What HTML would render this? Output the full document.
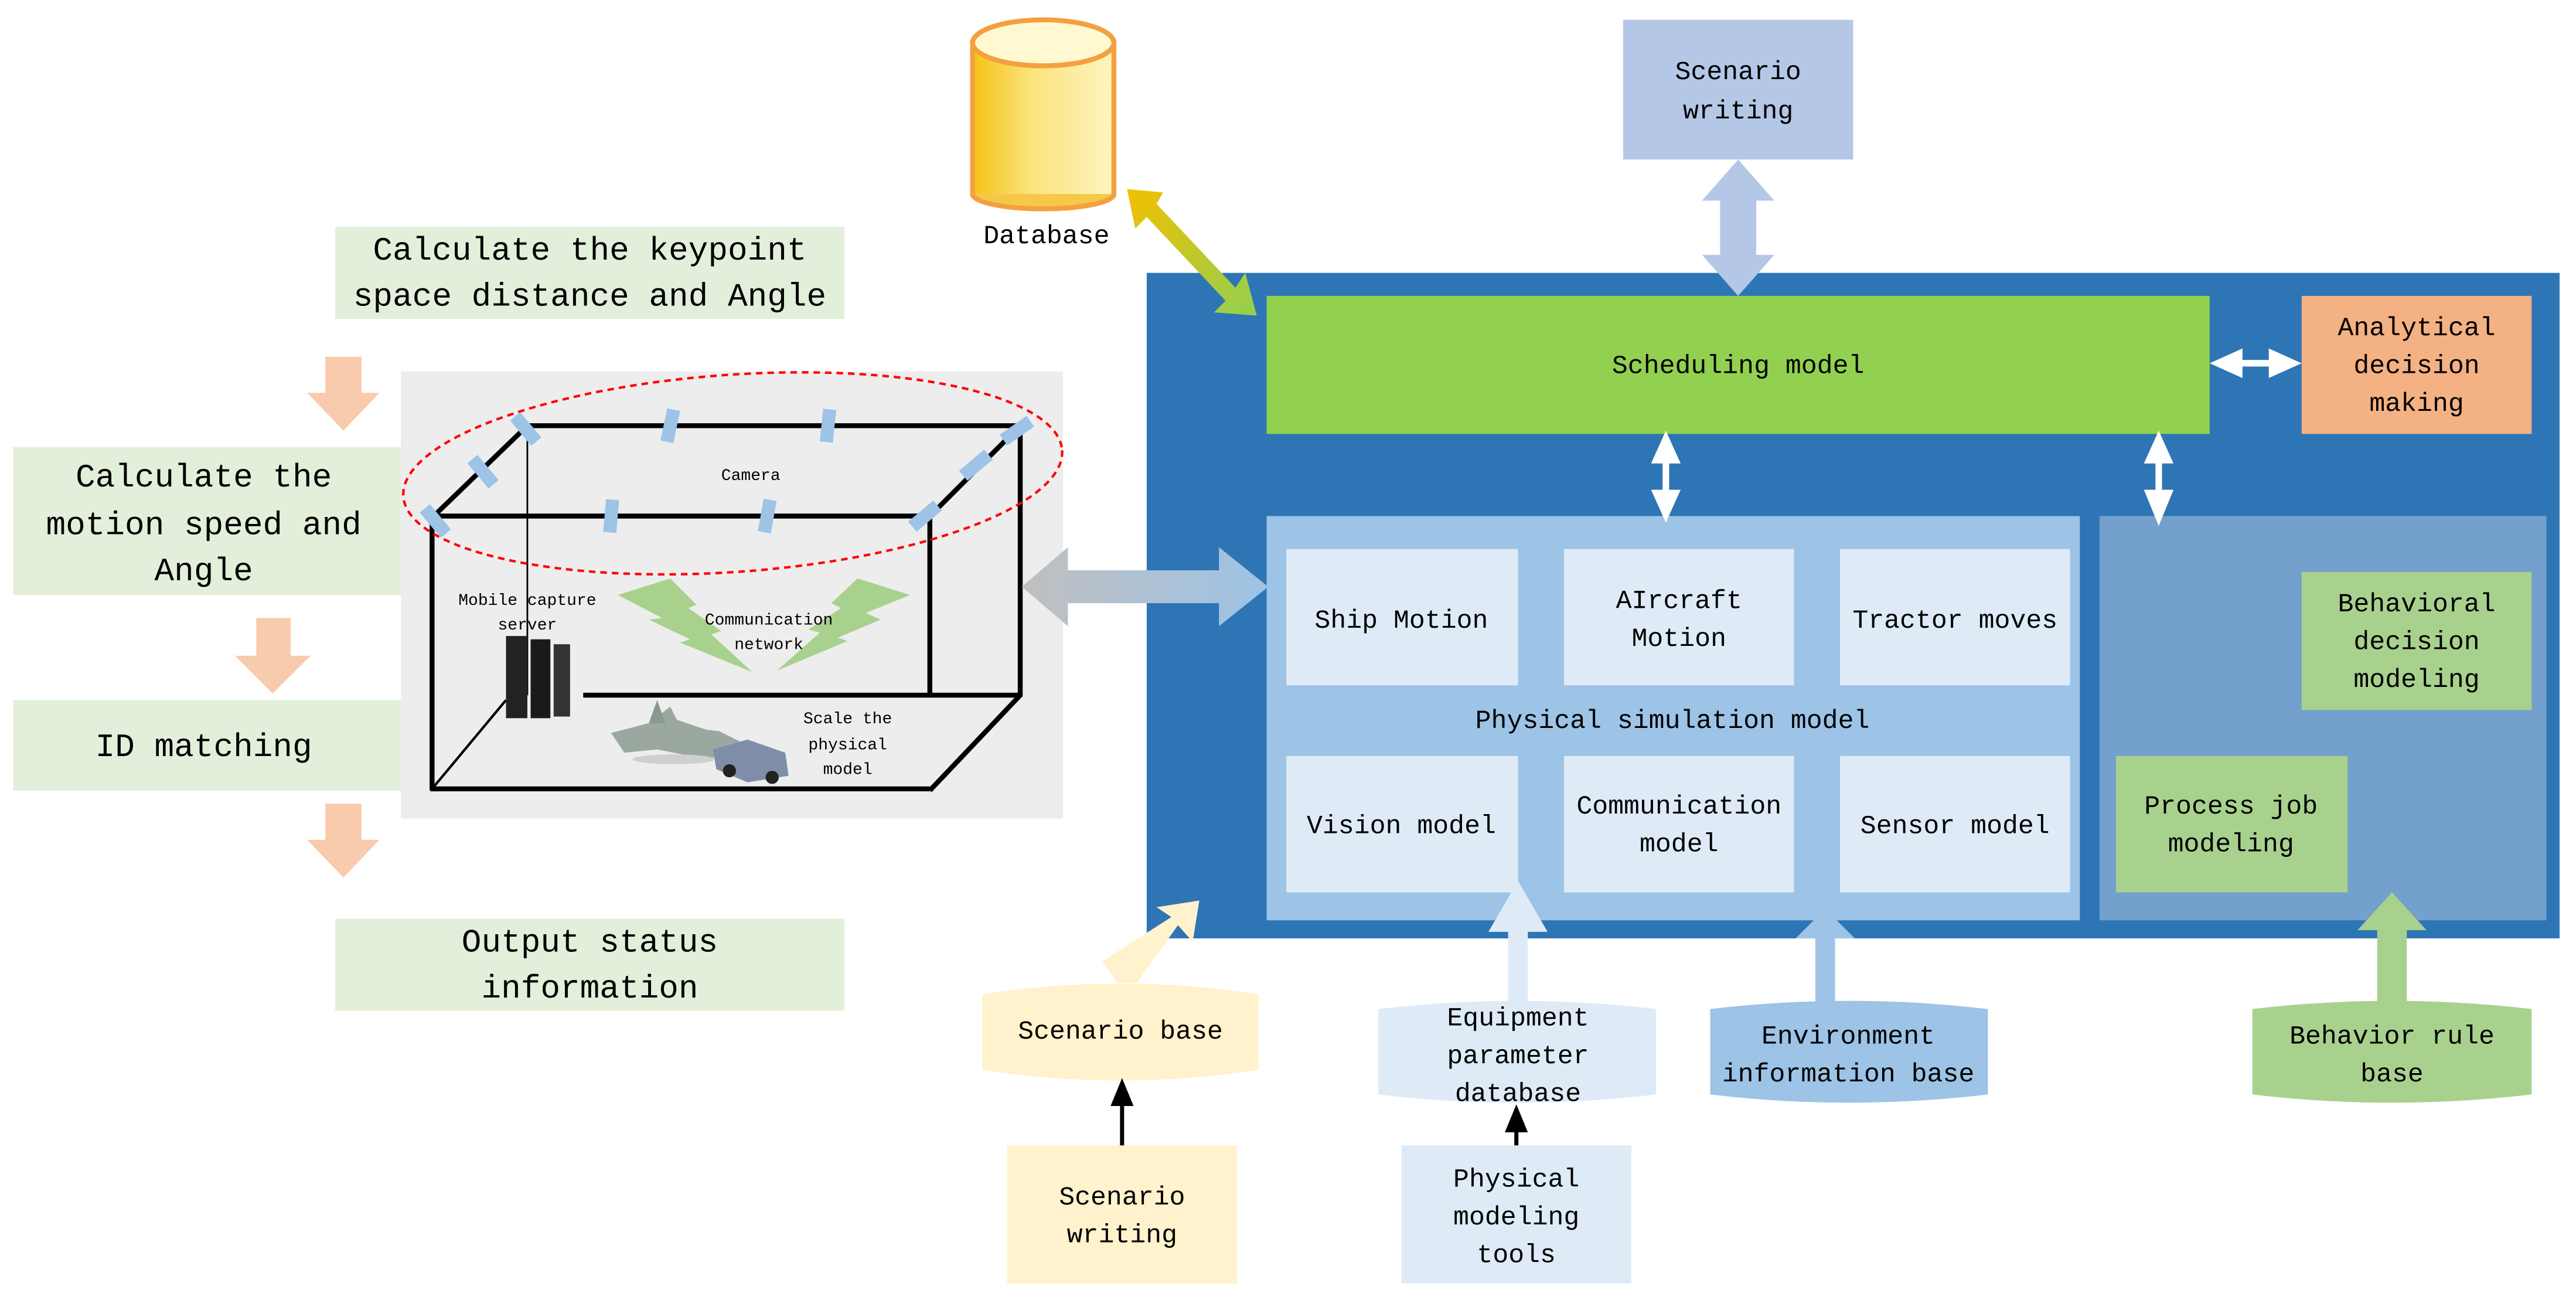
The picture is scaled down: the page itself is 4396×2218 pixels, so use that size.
<!DOCTYPE html>
<html><head><meta charset="utf-8"><style>html,body{margin:0;padding:0;background:#fff}svg{display:block}text{font-family:"Liberation Mono",monospace}</style></head><body>
<svg width="4396" height="2218" viewBox="0 0 1568 791" xmlns="http://www.w3.org/2000/svg">
<defs>
<linearGradient id="cyl" x1="0" x2="1"><stop offset="0" stop-color="#f5c518"/><stop offset="0.4" stop-color="#fbe27a"/><stop offset="1" stop-color="#fff4c0"/></linearGradient>
<linearGradient id="dg" x1="0" y1="0" x2="1" y2="1"><stop offset="0" stop-color="#f2c000"/><stop offset="1" stop-color="#92d050"/></linearGradient>
<linearGradient id="gh" x1="0" x2="1"><stop offset="0" stop-color="#bfbfbf"/><stop offset="1" stop-color="#9dc3e6"/></linearGradient>
</defs>
<!-- database -->
<rect x="592" y="26" width="86" height="92" fill="url(#cyl)" stroke="#f4a040" stroke-width="3"/>
<path d="M592 118 A43 9 0 0 0 678 118" fill="#f5c84a" stroke="#f4a040" stroke-width="3"/>
<rect x="593.5" y="26" width="83" height="92" fill="url(#cyl)"/>
<ellipse cx="635" cy="26" rx="43" ry="14" fill="#fff8d0" stroke="#f4a040" stroke-width="3"/>
<text x="637" y="148" font-size="16" text-anchor="middle">Database</text>
<!-- top scenario writing -->
<rect x="988" y="12" width="140" height="85" fill="#b4c7e7"/>
<text x="1058" y="48" font-size="16" text-anchor="middle">Scenario</text>
<text x="1058" y="72" font-size="16" text-anchor="middle">writing</text>
<!-- big blue -->
<rect x="698" y="166" width="860" height="405" fill="#2e75b6"/>
<rect x="771" y="180" width="574" height="84" fill="#92d050"/>
<text x="1058" y="227" font-size="16" text-anchor="middle">Scheduling model</text>
<rect x="1401" y="180" width="140" height="84" fill="#f4b183"/>
<text x="1471" y="204" font-size="16" text-anchor="middle">Analytical</text>
<text x="1471" y="227" font-size="16" text-anchor="middle">decision</text>
<text x="1471" y="250" font-size="16" text-anchor="middle">making</text>
<rect x="771" y="314" width="495" height="246" fill="#9dc3e6"/>
<rect x="1278" y="314" width="272" height="246" fill="#73a0cd"/>
<g fill="#deebf7">
<rect x="783" y="334" width="141" height="83"/><rect x="952" y="334" width="140" height="83"/><rect x="1120" y="334" width="140" height="83"/>
<rect x="783" y="460" width="141" height="83"/><rect x="952" y="460" width="140" height="83"/><rect x="1120" y="460" width="140" height="83"/>
</g>
<g font-size="16" text-anchor="middle">
<text x="853" y="382">Ship Motion</text>
<text x="1022" y="370">AIrcraft</text><text x="1022" y="393">Motion</text>
<text x="1190" y="382">Tractor moves</text>
<text x="1018" y="443">Physical simulation model</text>
<text x="853" y="507">Vision model</text>
<text x="1022" y="495">Communication</text><text x="1022" y="518">model</text>
<text x="1190" y="507">Sensor model</text>
</g>
<rect x="1401" y="348" width="140" height="84" fill="#a9d18e"/>
<text x="1471" y="372" font-size="16" text-anchor="middle">Behavioral</text>
<text x="1471" y="395" font-size="16" text-anchor="middle">decision</text>
<text x="1471" y="418" font-size="16" text-anchor="middle">modeling</text>
<rect x="1288" y="460" width="141" height="83" fill="#a9d18e"/>
<text x="1358" y="495" font-size="16" text-anchor="middle">Process job</text>
<text x="1358" y="518" font-size="16" text-anchor="middle">modeling</text>
<!-- white arrows -->
<g fill="#fff">
<polygon points="1345,221 1365,212 1365,219 1381,219 1381,212 1401,221 1381,230 1381,223 1365,223 1365,230"/>
<polygon points="1014,262 1023,282 1016,282 1016,298 1023,298 1014,318 1005,298 1012,298 1012,282 1005,282"/>
<polygon points="1314,262 1323,282 1316,282 1316,298 1323,298 1314,320 1305,298 1312,298 1312,282 1305,282"/>
</g>
<!-- top double arrow -->
<polygon points="1058,97 1080,122 1069,122 1069,155 1080,155 1058,180 1036,155 1047,155 1047,122 1036,122" fill="#b4c7e7"/>
<!-- database diagonal arrow -->
<polygon points="686,115 708,117 704,124 752,175 758,166 765,192 739,190 746,183 698,132 691,139" fill="url(#dg)"/>
<!-- bottom cylinders -->
<path d="M598 605 Q682 592 766 605 L766 651 Q682 664 598 651 Z" fill="#fff2cc"/>
<text x="682" y="632" font-size="16" text-anchor="middle">Scenario base</text>
<polygon points="680,598 692,598 717,563 726,573 730,548 704,552 713,558 671,585" fill="#fff2cc"/>
<rect x="613" y="697" width="140" height="84" fill="#fff2cc"/>
<text x="683" y="733" font-size="16" text-anchor="middle">Scenario</text>
<text x="683" y="756" font-size="16" text-anchor="middle">writing</text>
<line x1="683" y1="697" x2="683" y2="672" stroke="#000" stroke-width="2.5"/>
<polygon points="683,656 676,673 690,673"/>
<polygon points="924,536 942,567 930,567 930,612 918,612 918,567 906,567" fill="#deebf7"/>
<path d="M839 614 Q924 604 1008 614 L1008 666 Q924 676 839 666 Z" fill="#deebf7"/>
<text x="924" y="624" font-size="16" text-anchor="middle">Equipment</text>
<text x="924" y="647" font-size="16" text-anchor="middle">parameter</text>
<text x="924" y="670" font-size="16" text-anchor="middle">database</text>
<rect x="853" y="697" width="140" height="84" fill="#deebf7"/>
<text x="923" y="722" font-size="16" text-anchor="middle">Physical</text>
<text x="923" y="745" font-size="16" text-anchor="middle">modeling</text>
<text x="923" y="768" font-size="16" text-anchor="middle">tools</text>
<line x1="923" y1="697" x2="923" y2="686" stroke="#000" stroke-width="2.5"/>
<polygon points="923,672 916,689 930,689"/>
<polygon points="1111,553 1129,571 1117,571 1117,614 1105,614 1105,571 1093,571" fill="#9dc3e6"/>
<path d="M1041 614 Q1125 604 1210 614 L1210 666 Q1125 676 1041 666 Z" fill="#9dc3e6"/>
<text x="1125" y="635" font-size="16" text-anchor="middle">Environment</text>
<text x="1125" y="658" font-size="16" text-anchor="middle">information base</text>
<polygon points="1456,543 1477,566 1465,566 1465,612 1447,612 1447,566 1435,566" fill="#a9d18e"/>
<path d="M1371 614 Q1456 604 1541 614 L1541 666 Q1456 676 1371 666 Z" fill="#a9d18e"/>
<text x="1456" y="635" font-size="16" text-anchor="middle">Behavior rule</text>
<text x="1456" y="658" font-size="16" text-anchor="middle">base</text>
<!-- left flow -->
<g fill="#e2efda">
<rect x="204" y="138" width="310" height="56"/><rect x="8" y="272" width="259" height="90"/><rect x="8" y="426" width="259" height="55"/><rect x="204" y="559" width="310" height="56"/>
</g>
<g font-size="20" text-anchor="middle">
<text x="359" y="158">Calculate the keypoint</text>
<text x="359" y="186">space distance and Angle</text>
<text x="124" y="296">Calculate the</text>
<text x="124" y="325">motion speed and</text>
<text x="124" y="353">Angle</text>
<text x="124" y="460">ID matching</text>
<text x="359" y="579">Output status</text>
<text x="359" y="607">information</text>
</g>
<g fill="#f8cbad">
<polygon points="198,217 220,217 220,239 231,239 209,262 187,239 198,239"/>
<polygon points="156,376 177,376 177,399 189,399 166,422 143,399 156,399"/>
<polygon points="198,489 220,489 220,511 231,511 209,534 187,511 198,511"/>
</g>
<!-- gray panel -->
<rect x="244" y="226" width="403" height="272" fill="#ededed"/>
<g stroke="#000" stroke-width="3" fill="none">
<polyline points="264,314 321,259 621,259 566,314 264,314"/>
<line x1="263" y1="314" x2="263" y2="481"/>
<line x1="566" y1="314" x2="566" y2="423"/>
<line x1="621" y1="259" x2="621" y2="424"/>
<line x1="355" y1="423" x2="621" y2="423"/>
<line x1="262" y1="480" x2="566" y2="480"/>
<line x1="621" y1="423" x2="566" y2="481"/>
</g>
<line x1="263" y1="480" x2="308" y2="426" stroke="#000" stroke-width="1.5"/>
<line x1="321" y1="259" x2="321" y2="423" stroke="#000" stroke-width="1"/>
<ellipse cx="446" cy="288" rx="201" ry="60" transform="rotate(-4 446 288)" fill="none" stroke="#f00" stroke-width="1.5" stroke-dasharray="4,3"/>
<g fill="#9dc3e6">
<rect x="-4" y="-10" width="8" height="20" transform="translate(320,261) rotate(-40)"/>
<rect x="-4" y="-10" width="8" height="20" transform="translate(408,259) rotate(12)"/>
<rect x="-4" y="-10" width="8" height="20" transform="translate(504,259) rotate(6)"/>
<rect x="-4" y="-10" width="8" height="20" transform="translate(619,262) rotate(55)"/>
<rect x="-4" y="-10" width="8" height="20" transform="translate(294,287) rotate(-40)"/>
<rect x="-4" y="-10" width="8" height="20" transform="translate(594,283) rotate(50)"/>
<rect x="-4" y="-10" width="8" height="20" transform="translate(265,317) rotate(-40)"/>
<rect x="-4" y="-10" width="8" height="20" transform="translate(372,314) rotate(5)"/>
<rect x="-4" y="-10" width="8" height="20" transform="translate(467,314) rotate(10)"/>
<rect x="-4" y="-10" width="8" height="20" transform="translate(563,314) rotate(50)"/>
</g>
<g fill="#a9d18e">
<polygon points="376,362 408,352 424,368 419,370 439,384 433,386 458,409 414,391 420,389 395,377 403,376"/>
<polygon points="554,362 522,352 506,367 512,370 492,383 499,385 473,408 516,390 510,388 536,377 527,373"/>
</g>
<g font-size="10" text-anchor="middle">
<text x="457" y="292">Camera</text>
<text x="321" y="368">Mobile capture</text><text x="321" y="383">server</text>
<text x="468" y="380">Communication</text><text x="468" y="395">network</text>
<text x="516" y="440">Scale the</text><text x="516" y="456">physical</text><text x="516" y="471">model</text>
</g>
<!-- server -->
<rect x="308" y="387" width="13" height="50" fill="#222"/>
<rect x="323" y="389" width="12" height="48" fill="#1a1a1a"/>
<rect x="337" y="392" width="10" height="44" fill="#333"/>
<!-- plane -->
<polygon points="372,446 395,440 408,430 412,438 430,444 438,445 460,456 448,462 420,460 400,456 380,458" fill="#9aa8a0"/>
<polygon points="395,440 400,426 405,440" fill="#8a9890"/>
<ellipse cx="410" cy="462" rx="25" ry="3" fill="#cfcfcf"/>
<!-- tractor -->
<polygon points="434,456 455,450 478,458 480,472 455,476 436,468" fill="#7f8ea8"/>
<circle cx="444" cy="469" r="4" fill="#222"/><circle cx="470" cy="473" r="4" fill="#222"/>
<!-- gray double arrow (on top) -->
<polygon points="622,357 650,333 650,347 742,347 742,333 772,357 742,381 742,367 650,367 650,381" fill="url(#gh)"/>
</svg>
</body></html>
